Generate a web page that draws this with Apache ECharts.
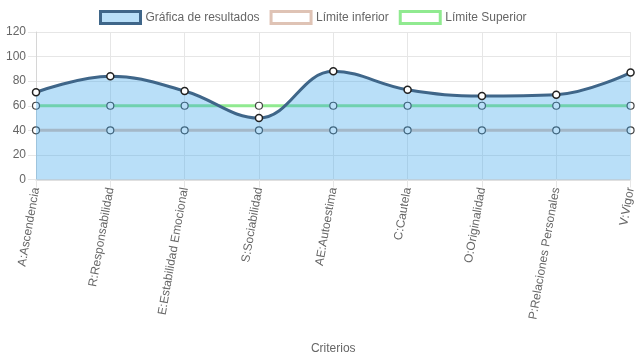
<!DOCTYPE html>
<html>
<head>
<meta charset="utf-8">
<script src="https://cdn.jsdelivr.net/npm/echarts@6/dist/echarts.min.js"></script>
<style>html,body{margin:0;padding:0;background:#fff}#c{width:637px;height:359px}</style>
</head>
<body>
<div id="c"></div>
<script>
var categories = ["A:Ascendencia","R:Responsabilidad","E:Estabilidad Emocional","S:Sociabilidad","AE:Autoestima","C:Cautela","O:Originalidad","P:Relaciones Personales","V:Vigor"];
var resultados = [71, 84, 72, 50, 88, 73, 68, 69, 87];
var limiteInferior = [40, 40, 40, 40, 40, 40, 40, 40, 40];
var limiteSuperior = [60, 60, 60, 60, 60, 60, 60, 60, 60];
var yTicks = [0, 20, 40, 60, 80, 100, 120];

var font = 'Liberation Sans, Arial, Helvetica, sans-serif';
var mainLine = '#3f6689';
var mainFill = 'rgba(54,162,235,0.35)';
var tan = '#dfc3b5';
var green = '#90ea90';

var chart = echarts.init(document.getElementById('c'));
chart.setOption({
  animation: false,
  textStyle: {fontFamily: font},
  legend: {
    top: 5,
    left: 94,
    itemWidth: 40,
    itemHeight: 12,
    itemGap: 10,
    icon: 'rect',
    textStyle: {fontSize: 12, color: '#666', fontFamily: font},
    data: [
      {name: 'Gráfica de resultados', itemStyle: {color: mainFill, borderColor: mainLine, borderWidth: 3}},
      {name: 'Límite inferior', itemStyle: {color: '#fff', borderColor: tan, borderWidth: 3}},
      {name: 'Límite Superior', itemStyle: {color: '#fff', borderColor: green, borderWidth: 3}}
    ]
  },
  grid: {left: 36, right: 4, top: 32, bottom: 179.5, containLabel: false},
  xAxis: {
    type: 'category',
    data: categories,
    boundaryGap: false,
    name: 'Criterios',
    nameLocation: 'middle',
    nameGap: 163,
    nameTextStyle: {fontSize: 12, color: '#666', fontFamily: font},
    axisLine: {lineStyle: {color: '#d6d6d6', width: 1.5}},
    axisTick: {show: true, length: 8, alignWithLabel: true, lineStyle: {color: '#e6e6e6'}},
    axisLabel: {rotate: 80, fontSize: 12, color: '#666', margin: 8, interval: 0, fontFamily: font},
    splitLine: {show: true, lineStyle: {color: '#e6e6e6'}}
  },
  yAxis: {
    type: 'value',
    min: yTicks[0],
    max: yTicks[yTicks.length - 1],
    interval: 20,
    axisLine: {show: true, lineStyle: {color: '#d6d6d6', width: 1}},
    axisTick: {show: true, length: 8, lineStyle: {color: '#e6e6e6'}},
    axisLabel: {fontSize: 12, color: '#666', margin: 10, fontFamily: font},
    splitLine: {show: true, lineStyle: {color: '#e6e6e6'}}
  },
  series: [
    {
      name: 'Límite inferior',
      type: 'line',
      data: limiteInferior,
      z: 2,
      symbol: 'circle',
      symbolSize: 7,
      lineStyle: {color: tan, width: 3},
      itemStyle: {color: '#fff', borderColor: '#444', borderWidth: 1.2}
    },
    {
      name: 'Límite Superior',
      type: 'line',
      data: limiteSuperior,
      z: 3,
      symbol: 'circle',
      symbolSize: 7,
      lineStyle: {color: green, width: 3},
      itemStyle: {color: '#fff', borderColor: '#444', borderWidth: 1.2}
    },
    {
      name: 'Gráfica de resultados',
      type: 'line',
      data: resultados,
      z: 5,
      smooth: 0.4,
      symbol: 'circle',
      symbolSize: 7,
      lineStyle: {color: mainLine, width: 3},
      areaStyle: {color: mainFill, opacity: 1, origin: 'start'},
      itemStyle: {color: '#fff', borderColor: '#222', borderWidth: 1.5}
    }
  ]
});
</script>
</body>
</html>
